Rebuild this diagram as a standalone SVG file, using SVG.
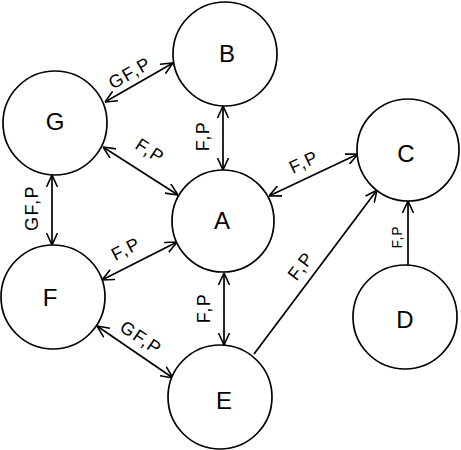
<svg xmlns="http://www.w3.org/2000/svg" width="461" height="450" viewBox="0 0 461 450">
<style>
.node circle{fill:#fff;stroke:#000;stroke-width:1.7}
.node text{font-family:"Liberation Sans",Arial,sans-serif;font-size:24px;text-anchor:middle;dominant-baseline:central;fill:#000}
.edge line{stroke:#000;stroke-width:1.7}
.lbl{font-family:"Liberation Sans",Arial,sans-serif;font-size:18px;letter-spacing:1.5px;text-anchor:middle;dominant-baseline:central;fill:#000}
</style>
<defs>
<marker id="ah" viewBox="0 0 12 12" refX="12" refY="6" markerWidth="12" markerHeight="12" markerUnits="userSpaceOnUse" orient="auto-start-reverse">
<path d="M0,0.5 L12,6 L0,11.5" fill="none" stroke="#000" stroke-width="1.6"/>
</marker>
</defs>
<rect width="461" height="450" fill="#fff"/>
<g id="connectors" class="edge">
<g id="e-G-B"><line x1="105" y1="102" x2="173" y2="63" marker-start="url(#ah)" marker-end="url(#ah)"/><text class="lbl" transform="translate(130,73) rotate(-30)">GF,P</text></g>
<g id="e-G-A"><line x1="103" y1="147" x2="178" y2="195" marker-start="url(#ah)" marker-end="url(#ah)"/><text class="lbl" transform="translate(150,151) rotate(33)">F,P</text></g>
<g id="e-B-A"><line x1="223" y1="106" x2="223" y2="170" marker-start="url(#ah)" marker-end="url(#ah)"/><text class="lbl" transform="translate(203,136) rotate(-90)">F,P</text></g>
<g id="e-A-C"><line x1="269" y1="196" x2="358" y2="154" marker-start="url(#ah)" marker-end="url(#ah)"/><text class="lbl" transform="translate(304,162) rotate(-25)">F,P</text></g>
<g id="e-G-F"><line x1="52" y1="175" x2="52" y2="245" marker-start="url(#ah)" marker-end="url(#ah)"/><text class="lbl" transform="translate(32,208) rotate(-90)">GF,P</text></g>
<g id="e-F-A"><line x1="102" y1="280" x2="177" y2="242" marker-start="url(#ah)" marker-end="url(#ah)"/><text class="lbl" transform="translate(126,249) rotate(-27)">F,P</text></g>
<g id="e-A-E"><line x1="224" y1="273" x2="224" y2="345" marker-start="url(#ah)" marker-end="url(#ah)"/><text class="lbl" transform="translate(204,308) rotate(-90)">F,P</text></g>
<g id="e-F-E"><line x1="97" y1="326" x2="173" y2="378" marker-start="url(#ah)" marker-end="url(#ah)"/><text class="lbl" transform="translate(141,338) rotate(34)">GF,P</text></g>
<g id="e-E-C"><line x1="254" y1="354" x2="377" y2="190" marker-end="url(#ah)"/><text class="lbl" transform="translate(301,266) rotate(-53)">F,P</text></g>
<g id="e-D-C"><line x1="408" y1="265" x2="408" y2="201" marker-end="url(#ah)"/><text class="lbl" style="font-size:14px;letter-spacing:1px" transform="translate(397,237) rotate(-90)">F,P</text></g>
</g>
<g id="B" class="node"><circle cx="225" cy="54" r="52"/><text x="227" y="53">B</text></g>
<g id="G" class="node"><circle cx="55" cy="123" r="52"/><text x="55" y="121">G</text></g>
<g id="A" class="node"><circle cx="223" cy="221" r="51"/><text x="222" y="220">A</text></g>
<g id="C" class="node"><circle cx="408" cy="150" r="51"/><text x="406" y="153">C</text></g>
<g id="F" class="node"><circle cx="53" cy="297" r="52"/><text x="50" y="297">F</text></g>
<g id="E" class="node"><circle cx="220" cy="397" r="52"/><text x="224" y="400">E</text></g>
<g id="D" class="node"><circle cx="405" cy="317" r="52"/><text x="405" y="319">D</text></g>
</svg>
